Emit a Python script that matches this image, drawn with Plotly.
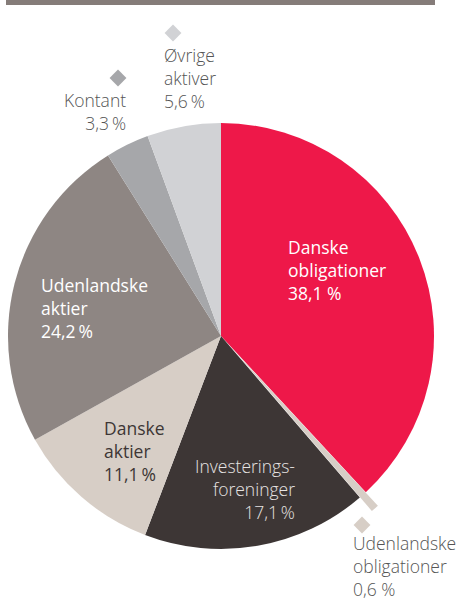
import math
import plotly.graph_objects as go

# ---- data ----
labels = ["Danske obligationer", "Udenlandske obligationer", "Investeringsforeninger",
          "Danske aktier", "Udenlandske aktier", "Kontant", "Øvrige aktiver"]
values = [38.1, 0.6, 17.1, 11.1, 24.2, 3.3, 5.6]
label_lines = ["Danske<br>obligationer", "Udenlandske<br>obligationer", "Investerings-<br>foreninger",
               "Danske<br>aktier", "Udenlandske<br>aktier", "Kontant", "Øvrige<br>aktiver"]
pct_sep = [" ", " ", "\u2009", "\u2009", "\u2009", "\u2009", "\u2009"]
colors = ["#EE1849", "#D7CEC6", "#3D3635", "#D7CEC6", "#8E8683", "#A6A7AA", "#D1D2D5"]
pulled = 1  # index of the pulled slice

W, H = 463, 601
CX, CY, R = 221, 336, 213
PULL = 0.085

def dom(cx, cy, r):
    return dict(x=[(cx - r) / W, (cx + r) / W], y=[1 - (cy + r) / H, 1 - (cy - r) / H])

# angle of the pulled slice bisector (clockwise from 12 o'clock)
tot = sum(values)
start = sum(values[:pulled]) / tot * 360
mid = math.radians(start + values[pulled] / tot * 360 / 2)
ox = CX + PULL * R * math.sin(mid)
oy = CY - PULL * R * math.cos(mid)

base_colors = [c if i != pulled else "rgba(0,0,0,0)" for i, c in enumerate(colors)]
pull_colors = [c if i == pulled else "rgba(0,0,0,0)" for i, c in enumerate(colors)]

fig = go.Figure()
fig.add_trace(go.Pie(labels=labels, values=values, sort=False, direction="clockwise",
                     rotation=0, marker=dict(colors=base_colors, line=dict(width=0)),
                     textinfo="none", hoverinfo="label+percent", showlegend=False,
                     domain=dom(CX, CY, R)))
fig.add_trace(go.Pie(labels=labels, values=values, sort=False, direction="clockwise",
                     rotation=0, marker=dict(colors=pull_colors, line=dict(width=0)),
                     textinfo="none", hoverinfo="skip", showlegend=False,
                     domain=dom(ox, oy, R)))

def fmt(v):
    return f"{v:.1f}".replace(".", ",")

# label layout: (x, y of middle, xanchor, align, color, weight)
label_pos = [
    (286, 270, "left", "left", "#FFFFFF", 500),
    (351, 566, "left", "left", "#555555", 300),
    (297, 489, "right", "right", "#E6E3E2", 300),
    (102, 451, "left", "left", "#3D3635", 500),
    (39, 308, "left", "left", "#FFFFFF", 500),
    (128, 111, "right", "right", "#555555", 300),
    (162, 78, "left", "left", "#555555", 300),
]
diamonds = {1: (362, 525), 5: (118, 78), 6: (173, 33)}

annotations = []
for i, (x, y, xa, al, col, wt) in enumerate(label_pos):
    annotations.append(dict(
        x=x, y=y, xref="x", yref="y", xanchor=xa, yanchor="middle", align=al,
        showarrow=False, text=f"{label_lines[i]}<br>{fmt(values[i])}{pct_sep[i]}%",
        font=dict(family="Open Sans", size=17.5, color=col, weight=wt)))

dx = [diamonds[k][0] for k in diamonds]
dy = [diamonds[k][1] for k in diamonds]
dc = [colors[k] for k in diamonds]
fig.add_trace(go.Scatter(x=dx, y=dy, mode="markers", hoverinfo="skip", showlegend=False,
                         marker=dict(symbol="diamond", size=13, color=dc, line=dict(width=0))))

fig.update_layout(
    width=W, height=H, margin=dict(l=0, r=0, t=0, b=0),
    paper_bgcolor="white", plot_bgcolor="rgba(0,0,0,0)",
    xaxis=dict(range=[0, W], visible=False, fixedrange=True),
    yaxis=dict(range=[H, 0], visible=False, fixedrange=True),
    annotations=annotations,
    shapes=[dict(type="rect", xref="x", yref="y", x0=6, x1=435, y0=0, y1=5,
                 fillcolor="#857C79", line=dict(width=0), layer="above")],
)
fig.write_html("out.html", config={"displayModeBar": False},
               post_script="document.body.style.margin='0';document.body.style.overflow='hidden';")
